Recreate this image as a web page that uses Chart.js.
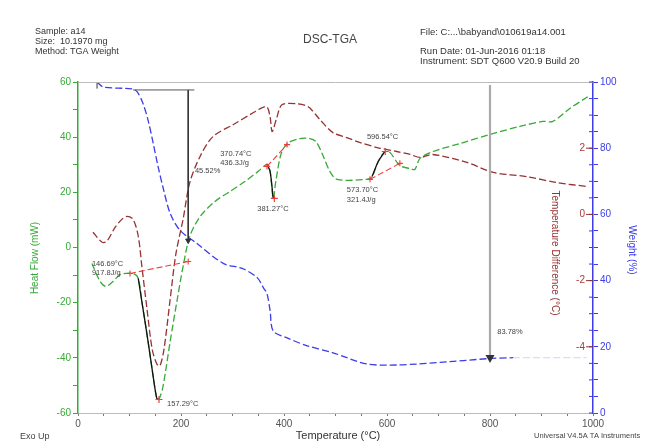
<!DOCTYPE html>
<html>
<head>
<meta charset="utf-8">
<script src="https://cdn.jsdelivr.net/npm/chart.js@4.4.1/dist/chart.umd.min.js"></script>
<style>
  html, body { margin: 0; padding: 0; background: #fff; }
  #wrap { position: relative; width: 647px; height: 443px; }
</style>
</head>
<body>
<div id="wrap"><canvas id="dsc"></canvas></div>
<script>
// ====== data ======
// Heat flow (mW)
const hfTemp   = [27, 43, 54, 68, 82, 107, 117, 124, 136, 146, 153, 157, 165, 179, 192, 204, 217, 237, 266, 295, 324, 350, 367, 373, 379, 384, 394, 406, 431, 450, 462, 474, 489, 503, 561, 571, 583, 596, 606, 625, 645, 654, 664, 689, 742, 800, 858, 903, 922, 955, 990];
const hfValues = [-5.8, -12.3, -14.1, -12.3, -9.8, -9.4, -11.2, -19.6, -34, -46.8, -54.7, -55.1, -50.4, -34, -19.6, -6.9, 4, 11.2, 16.7, 20.3, 23.9, 27.6, 30.1, 27.6, 17.8, 23.9, 33.7, 37.7, 39.5, 39.5, 38.4, 34.1, 27.6, 24.7, 24.7, 25.7, 31.2, 34.8, 34.4, 29.7, 28.6, 28.3, 32.3, 34.8, 37.7, 41, 43.9, 45.7, 45.7, 50.4, 54.7];

// Temperature difference (°C)
const dtTemp   = [29, 47, 56, 72, 85, 95, 107, 117, 124, 134, 144, 153, 159, 167, 179, 190, 204, 217, 237, 262, 301, 340, 357, 367, 373, 377, 386, 396, 425, 447, 470, 495, 522, 548, 581, 619, 645, 664, 689, 755, 806, 872, 930, 990];
const dtValues = [-0.54, -0.84, -0.81, -0.39, -0.15, -0.06, -0.15, -0.66, -1.57, -2.86, -4.07, -4.52, -4.58, -4.07, -2.56, -1.2, -0.15, 0.96, 1.75, 2.35, 2.71, 3.07, 3.22, 3.25, 2.95, 2.5, 2.92, 3.31, 3.34, 3.25, 2.86, 2.47, 2.32, 2.17, 2.02, 1.9, 1.81, 1.72, 1.81, 1.57, 1.27, 1.14, 0.96, 0.84];

// Weight (%)
const wTemp   = [37, 49, 105, 115, 126, 136, 146, 155, 165, 179, 198, 231, 282, 320, 348, 361, 367, 373, 379, 406, 445, 495, 561, 619, 658, 722, 794, 845, 988];
const wValues = [100, 98.5, 97.9, 97, 93.6, 88.5, 81.5, 74.8, 68.2, 60.3, 55.2, 51.2, 45.2, 43.6, 40.9, 37.6, 36.1, 30.9, 24.8, 22.7, 20.3, 18.2, 14.8, 14.5, 14.8, 15.5, 16.4, 16.7, 16.7];
const wFaintFrom = 845;

// peak analysis (heat flow axis)
const peakTemp   = [157.29, 381.27, 596.54];
const peakValues = [-55.1, 17.8, 34.8];
const base1 = [[101, -9.4], [214, -5.1]];
const base2 = [[367, 29.4], [406, 37.3]];
const base3 = [[567, 24.7], [625, 30.5]];
const peakRanges = [[117, 157], [367, 379], [571, 596]];

// weight step markers (weight axis)
const step1Top = [[107, 97.6], [226, 97.6]];
const step1 = [[214, 97.6], [214, 52.1]];
const step2 = [[800, 99.1], [800, 16.7]];

const notes = [
  ['146.69°C', 27, -5.8], ['917.8J/g', 27, -9.1],
  ['157.29°C', 173, -56.6],
  ['370.74°C', 276, 34.1], ['436.3J/g', 276, 30.8],
  ['381.27°C', 348, 13.8],
  ['596.54°C', 561, 40.2],
  ['573.70°C', 522, 20.7], ['321.4J/g', 522, 17.4],
  ['45.52%', 227, 27.9],
  ['83.78%', 814, -30.5]
];

const dtTicks = [-4, -2, 0, 2];

// ====== styles ======
const FONT = '"Liberation Sans", Arial, sans-serif';
const green = 'rgb(55,170,55)';
const brown = 'rgb(150,50,50)';
const blue = 'rgb(60,60,235)';
const red = 'rgb(240,60,60)';

const pts = (xs, ys) => xs.map((x, i) => ({ x: x, y: ys[i] }));
const pairs = arr => arr.map(p => ({ x: p[0], y: p[1] }));
const hfPts = pts(hfTemp, hfValues);

function lineSet(data, color, axis, extra) {
  return Object.assign({
    data: data, yAxisID: axis, borderColor: color, backgroundColor: color,
    borderWidth: 1.3, pointRadius: 0, fill: false, tension: 0.3
  }, extra || {});
}

const datasets = [
  lineSet(hfPts, green, 'hf', { borderDash: [7, 3], order: 5 }),
  lineSet(pts(dtTemp, dtValues), brown, 'dt', { borderDash: [7, 3], order: 6 }),
  lineSet(pts(wTemp, wValues), blue, 'w', {
    borderDash: [7, 3], order: 7,
    segment: { borderColor: c => c.p0.parsed.x >= wFaintFrom ? 'rgba(140,140,240,0.3)' : blue }
  })
];
peakRanges.forEach(r => {
  datasets.push(lineSet(hfPts.filter(p => p.x >= r[0] && p.x <= r[1]), '#111', 'hf', { borderWidth: 1.3, order: 3 }));
});
[base1, base2, base3].forEach(b => {
  datasets.push(lineSet(pairs(b), red, 'hf', {
    borderDash: [6, 3], tension: 0, pointStyle: 'cross', pointRadius: 3, borderWidth: 1.1, order: 2
  }));
});
datasets.push(lineSet(pts(peakTemp, peakValues), red, 'hf', {
  showLine: false, pointStyle: 'cross', pointRadius: 3.5, borderWidth: 1.2, order: 1
}));
datasets.push(lineSet(pairs(step1Top), '#555', 'w', { tension: 0, borderWidth: 1, order: 4 }));
datasets.push(lineSet(pairs(step1), '#333', 'w', {
  tension: 0, borderWidth: 1, order: 4, pointStyle: 'triangle', pointRadius: [0, 3], rotation: 180
}));
datasets.push(lineSet(pairs(step2), '#aaa', 'w', {
  tension: 0, borderWidth: 2.2, order: 4, pointStyle: 'triangle', pointRadius: [0, 3],
  rotation: 180, pointBackgroundColor: '#333', pointBorderColor: '#333'
}));
datasets.push(lineSet([{ x: 37, y: 98 }, { x: 37, y: 100 }], '#333', 'w', { tension: 0, borderWidth: 1, order: 4 }));

function text(ctx, s, x, y, font, color, align, rot) {
  ctx.save();
  ctx.translate(x, y);
  if (rot) ctx.rotate(rot);
  ctx.font = font;
  ctx.fillStyle = color;
  ctx.textAlign = align || 'left';
  ctx.textBaseline = 'middle';
  ctx.fillText(s, 0, 0);
  ctx.restore();
}

const extras = {
  id: 'extras',
  afterDraw(chart) {
    const { ctx, chartArea: a, scales } = chart;
    ctx.save();
    // top frame
    ctx.strokeStyle = '#bbb';
    ctx.lineWidth = 1;
    ctx.beginPath();
    ctx.moveTo(a.left, a.top + 0.5);
    ctx.lineTo(a.right, a.top + 0.5);
    ctx.stroke();

    // weight ticks inside the plot
    ctx.strokeStyle = blue;
    scales.w.ticks.forEach(t => {
      const y = scales.w.getPixelForValue(t.value);
      ctx.beginPath();
      ctx.moveTo(a.right - 4, y);
      ctx.lineTo(a.right, y);
      ctx.stroke();
    });

    // temperature difference ticks
    ctx.strokeStyle = brown;
    dtTicks.forEach(v => {
      const y = scales.dt.getPixelForValue(v);
      ctx.beginPath();
      ctx.moveTo(a.right - 7, y);
      ctx.lineTo(a.right, y);
      ctx.stroke();
      text(ctx, String(v), a.right - 8, y, '10px ' + FONT, 'rgb(170,60,60)', 'right');
    });
    ctx.restore();

    // axis titles
    text(ctx, 'Heat Flow (mW)', 35, 258, '10px ' + FONT, green, 'center', -Math.PI / 2);
    text(ctx, 'Temperature Difference (°C)', 555, 253, '10px ' + FONT, brown, 'center', Math.PI / 2);
    text(ctx, 'Weight (%)', 632, 250, '10px ' + FONT, blue, 'center', Math.PI / 2);

    // header / footer
    const hd = '9px ' + FONT;
    text(ctx, 'Sample: a14', 35, 32, hd, '#333');
    text(ctx, 'Size:  10.1970 mg', 35, 42, hd, '#333');
    text(ctx, 'Method: TGA Weight', 35, 52, hd, '#333');
    text(ctx, 'DSC-TGA', 303, 40, '12px ' + FONT, '#444');
    text(ctx, 'File: C:...\\babyand\\010619a14.001', 420, 32, '9.5px ' + FONT, '#333');
    text(ctx, 'Run Date: 01-Jun-2016 01:18', 420, 51, '9.5px ' + FONT, '#333');
    text(ctx, 'Instrument: SDT Q600 V20.9 Build 20', 420, 61, '9.5px ' + FONT, '#333');
    text(ctx, 'Exo Up', 20, 437, '9px ' + FONT, '#444');
    text(ctx, 'Temperature (°C)', 338, 436, '11px ' + FONT, '#333', 'center');
    text(ctx, 'Universal V4.5A TA Instruments', 534, 436, '7.5px ' + FONT, '#444');

    // peak annotations
    notes.forEach(n => {
      text(ctx, n[0], scales.x.getPixelForValue(n[1]), scales.hf.getPixelForValue(n[2]), '7.5px ' + FONT, '#444');
    });
  }
};

new Chart(document.getElementById('dsc').getContext('2d'), {
  type: 'line',
  data: { datasets: datasets },
  options: {
    responsive: true,
    maintainAspectRatio: false,
    animation: false,
    layout: { padding: { top: 82, left: 0, right: 0, bottom: 0 } },
    plugins: { legend: { display: false }, tooltip: { enabled: false } },
    scales: {
      x: {
        type: 'linear', min: 0, max: 1000,
        afterFit: s => { s.height = 30; },
        border: { color: '#bbb', width: 1 },
        grid: { drawOnChartArea: false, tickLength: 3, color: '#777' },
        ticks: {
          stepSize: 50, autoSkip: false, maxRotation: 0, padding: 2,
          color: '#555', font: { family: FONT, size: 10 },
          callback: v => (v % 200 === 0 ? v : '')
        }
      },
      hf: {
        position: 'left', min: -60, max: 60,
        afterFit: s => { s.width = 78; },
        border: { color: green, width: 1.5 },
        grid: { drawOnChartArea: false, tickLength: 5, color: green },
        ticks: {
          stepSize: 10, autoSkip: false, padding: 2,
          color: green, font: { family: FONT, size: 10 },
          callback: v => (v % 20 === 0 ? v : '')
        }
      },
      dt: { position: 'right', min: -6, max: 4, display: false },
      w: {
        position: 'right', min: 0, max: 100,
        afterFit: s => { s.width = 54; },
        border: { color: blue, width: 1.5 },
        grid: { drawOnChartArea: false, tickLength: 5, color: blue },
        ticks: {
          stepSize: 5, autoSkip: false, padding: 2,
          color: blue, font: { family: FONT, size: 10 },
          callback: v => (v % 20 === 0 ? v : '')
        }
      }
    }
  },
  plugins: [extras]
});
</script>
</body>
</html>
